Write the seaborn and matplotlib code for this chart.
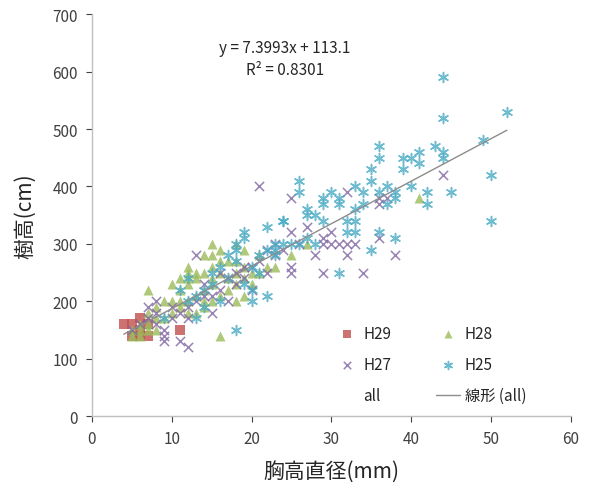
import matplotlib
matplotlib.use("Agg")
import matplotlib.pyplot as plt
from matplotlib.lines import Line2D
import seaborn as sns
import numpy as np

# --- data (x: 胸高直径 mm, y: 樹高 cm) ---
h29_x = [4, 5, 5, 6, 6, 6, 7, 7, 11]
h29_y = [160, 160, 140, 170, 150, 140, 160, 140, 150]

h28_x = [5, 5, 6, 6, 6, 7, 7, 7, 7, 8, 8, 8, 9, 9, 10, 10, 10,
         11, 11, 11, 11, 12, 12, 12, 12, 12, 12, 13, 13, 13, 13,
         14, 14, 14, 14, 14, 15, 15, 15, 15, 15, 15, 16, 16, 16, 16, 16,
         17, 17, 17, 18, 18, 18, 18, 18, 19, 19, 19, 19, 20, 20,
         21, 21, 22, 23, 25, 27, 41]
h28_y = [140, 150, 140, 150, 160, 150, 160, 220, 180, 150, 170, 190, 170, 200, 180, 200, 230,
         190, 200, 220, 240, 180, 200, 230, 250, 260, 240, 180, 210, 240, 250,
         190, 200, 220, 250, 280, 200, 230, 260, 280, 300, 240, 140, 210, 250, 270, 290,
         220, 240, 270, 200, 230, 250, 300, 270, 210, 240, 260, 290, 230, 250,
         280, 250, 260, 260, 280, 300, 380]

h27_x = [5, 6, 7, 7, 8, 8, 8, 9, 9, 9, 10, 10, 11, 11, 12, 12, 12, 13, 13,
         14, 14, 15, 15, 16, 16, 17, 17, 18, 18, 19, 19, 20, 20, 21, 21,
         22, 22, 23, 23, 24,
         44, 25, 32, 36, 37, 36, 27, 25, 30, 29, 29, 30, 31, 32, 28, 32,
         36, 38, 25, 25, 29, 26, 33, 34]
h27_y = [150, 160, 170, 190, 200, 180, 160, 150, 140, 130, 170, 190, 130, 180, 120, 190, 170, 200, 280,
         230, 210, 210, 180, 220, 250, 240, 200, 250, 230, 260, 240, 260, 220, 400, 270,
         290, 250, 300, 280, 290,
         420, 380, 390, 370, 380, 380, 330, 320, 320, 310, 300, 300, 300, 300, 280, 280,
         310, 280, 260, 250, 250, 300, 300, 250]

h25_x = [9, 11, 12, 12, 13, 13, 14, 14, 15, 15, 16, 16, 17, 17, 18, 18, 18, 18,
         19, 19, 19, 20, 20, 20, 21, 21, 22, 22, 22, 23, 23, 24,
         44, 52, 44, 49, 36, 36, 43, 44, 44, 39, 40, 41, 41, 35, 39, 35, 50,
         26, 26, 33, 40, 37, 30, 29, 31, 34, 34, 36, 38, 38, 42, 45, 42, 37,
         29, 31, 27, 27, 28, 29, 33, 32, 33, 32, 33, 36, 38, 50, 24, 35, 31,
         24, 27, 25, 26, 28, 23]
h25_y = [170, 220, 240, 200, 170, 210, 190, 220, 230, 250, 200, 260, 240, 280, 150, 270, 290, 300,
         310, 320, 230, 200, 220, 260, 280, 250, 210, 290, 330, 300, 280, 340,
         590, 530, 520, 480, 470, 450, 470, 460, 450, 450, 450, 460, 440, 430, 430, 410, 420,
         410, 390, 400, 400, 400, 390, 380, 380, 390, 370, 390, 390, 380, 390, 390, 370, 370,
         370, 370, 360, 350, 350, 340, 360, 340, 340, 320, 320, 320, 310, 340, 340, 290, 250,
         300, 310, 300, 300, 300, 290]

# linear trend of all points, as printed on the chart
slope = 7.3993
intercept = 113.1
r2 = 0.8301

sns.set_theme(style="white")
plt.rcParams["font.family"] = ["Noto Sans CJK JP", "DejaVu Sans"]

fig, ax = plt.subplots(figsize=(5.89, 4.89), dpi=100)
fig.subplots_adjust(left=0.156, right=0.969, top=0.969, bottom=0.147)

a = 0.8
sns.scatterplot(x=h29_x, y=h29_y, marker="s", color="#C0504D", s=42,
                linewidth=0, alpha=a, ax=ax, label="H29")
sns.scatterplot(x=h28_x, y=h28_y, marker="^", color="#9BBB59", s=52,
                linewidth=0, alpha=a, ax=ax, label="H28")
sns.scatterplot(x=h27_x, y=h27_y, marker="x", color="#8064A2", edgecolor="#8064A2",
                s=44, linewidth=1.1, alpha=a, ax=ax, label="H27")
sns.scatterplot(x=h25_x, y=h25_y, marker=(6, 2, 0), color="#4BACC6", edgecolor="#4BACC6",
                s=52, linewidth=1.1, alpha=a, ax=ax, label="H25")

all_x = np.array(h29_x + h28_x + h27_x + h25_x)
xs = np.array([all_x.min(), all_x.max()])
ax.plot(xs, slope * xs + intercept, color="#8C8C8C", linewidth=1.0, label="線形 (all)")

ax.set_xlim(0, 60)
ax.set_ylim(0, 700)
ax.set_xticks(range(0, 61, 10))
ax.set_yticks(range(0, 701, 100))
ax.set_xlabel("胸高直径(mm)", fontsize=15, labelpad=9)
ax.set_ylabel("樹高(cm)", fontsize=15, labelpad=12)
ax.tick_params(axis="both", labelsize=11, colors="#404040", length=4, width=0.8,
               direction="out", bottom=True, left=True, pad=6)
for side in ["top", "right"]:
    ax.spines[side].set_visible(False)
for side in ["left", "bottom"]:
    ax.spines[side].set_color("#BFBFBF")
    ax.spines[side].set_linewidth(1.0)

ax.text(0.403, 0.918, f"y = {slope}x + {intercept}", transform=ax.transAxes,
        ha="center", va="center", fontsize=11, color="#262626")
ax.text(0.403, 0.863, f"R² = {r2}", transform=ax.transAxes,
        ha="center", va="center", fontsize=11, color="#262626")

handles, labels = ax.get_legend_handles_labels()
hd = dict(zip(labels, handles))
blank = Line2D([], [], linestyle="none", marker=None)
order_h = [hd["H29"], hd["H27"], blank, hd["H28"], hd["H25"], hd["線形 (all)"]]
order_l = ["H29", "H27", "all", "H28", "H25", "線形 (all)"]
ax.legend(order_h, order_l, ncol=2, loc="upper left", bbox_to_anchor=(0.478, 0.26),
          frameon=False, fontsize=11, labelspacing=0.9, columnspacing=2.9,
          handlelength=1.6, handletextpad=0.3, markerscale=0.8)

plt.savefig("out.png", dpi=100)
